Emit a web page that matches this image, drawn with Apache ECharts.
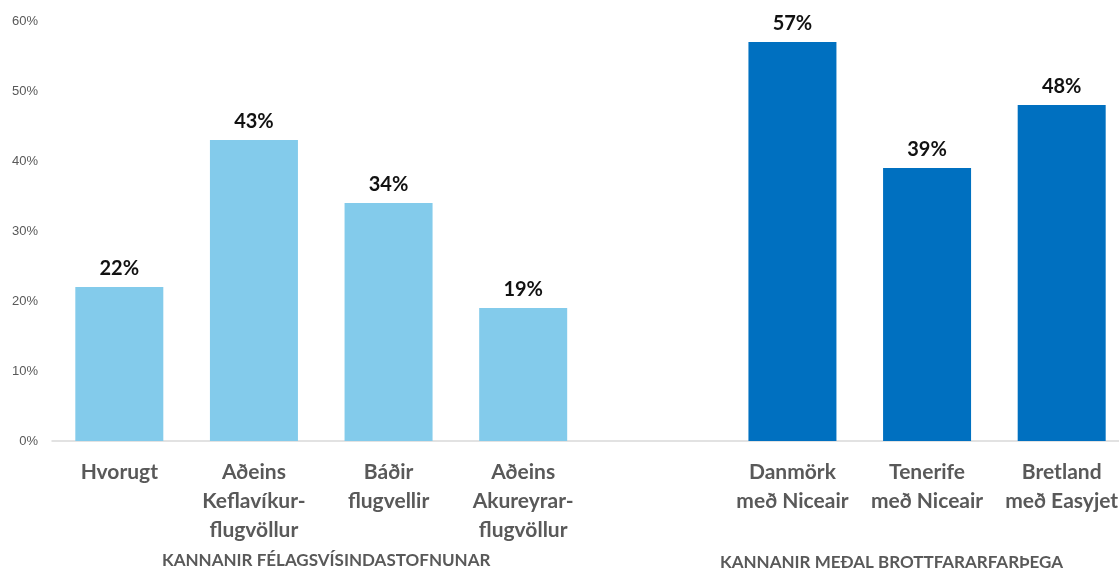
<!DOCTYPE html>
<html>
<head>
<meta charset="utf-8">
<script src="https://cdn.jsdelivr.net/npm/echarts@6/dist/echarts.min.js"></script>
<style>
  html, body { margin: 0; padding: 0; background: #fff; overflow: hidden; }
  #chart { width: 1119px; height: 568px; }
</style>
</head>
<body>
<div id="chart"></div>
<script>
// flokkar (tómt bil á milli hópanna)
const categories = [
    'Hvorugt',
    'Aðeins\nKeflavíkur-\nflugvöllur',
    'Báðir\nflugvellir',
    'Aðeins\nAkureyrar-\nflugvöllur',
    '',
    'Danmörk\nmeð Niceair',
    'Tenerife\nmeð Niceair',
    'Bretland\nmeð Easyjet'
];
const values = [22, 43, 34, 19, null, 57, 39, 48];
const groupIndex = [0, 0, 0, 0, -1, 1, 1, 1];
const groupLabels = ['KANNANIR FÉLAGSVÍSINDASTOFNUNAR', 'KANNANIR MEÐAL BROTTFARARFARÞEGA'];
const yTicks = [0, 10, 20, 30, 40, 50, 60];

const groupColors = ['#83CBEB', '#0070C0'];

const chart = echarts.init(document.getElementById('chart'));

const option = {
    animation: false,
    // plotið nær út fyrir hægri brún myndarinnar
    grid: { left: 52, width: 1077, top: 21, bottom: 127, outerBoundsMode: 'none', containLabel: false },
    xAxis: {
        type: 'category',
        data: categories,
        axisLine: { show: true, lineStyle: { color: '#d9d9d9', width: 1.5 } },
        axisTick: { show: false },
        axisLabel: {
            interval: 0,
            margin: 17,
            color: '#595959',
            fontFamily: 'Lato',
            fontWeight: 'bold',
            fontSize: 21,
            lineHeight: 29
        }
    },
    yAxis: {
        type: 'value',
        min: yTicks[0],
        max: yTicks[yTicks.length - 1],
        interval: 10,
        splitLine: { show: false },
        axisLine: { show: false },
        axisTick: { show: false },
        axisLabel: {
            margin: 14,
            color: '#595959',
            fontFamily: 'Liberation Sans',
            fontSize: 13,
            formatter: v => v + '%'
        }
    },
    series: [{
        type: 'bar',
        barWidth: 88,
        data: values.map((v, i) => v == null ? '-' : {
            value: v,
            itemStyle: { color: groupColors[groupIndex[i]] }
        }),
        label: {
            show: true,
            position: 'top',
            distance: 8,
            color: '#111',
            fontFamily: 'Lato',
            fontWeight: 'bold',
            fontSize: 20,
            formatter: p => p.value + '%'
        }
    }],
    graphic: [
        {
            type: 'text', left: 162, top: 552,
            style: { text: groupLabels[0], fill: '#595959', font: 'bold 17px Lato' }
        },
        {
            type: 'text', left: 720, top: 554,
            style: { text: groupLabels[1], fill: '#595959', font: 'bold 17px Lato' }
        }
    ]
};

chart.setOption(option);
</script>
</body>
</html>
